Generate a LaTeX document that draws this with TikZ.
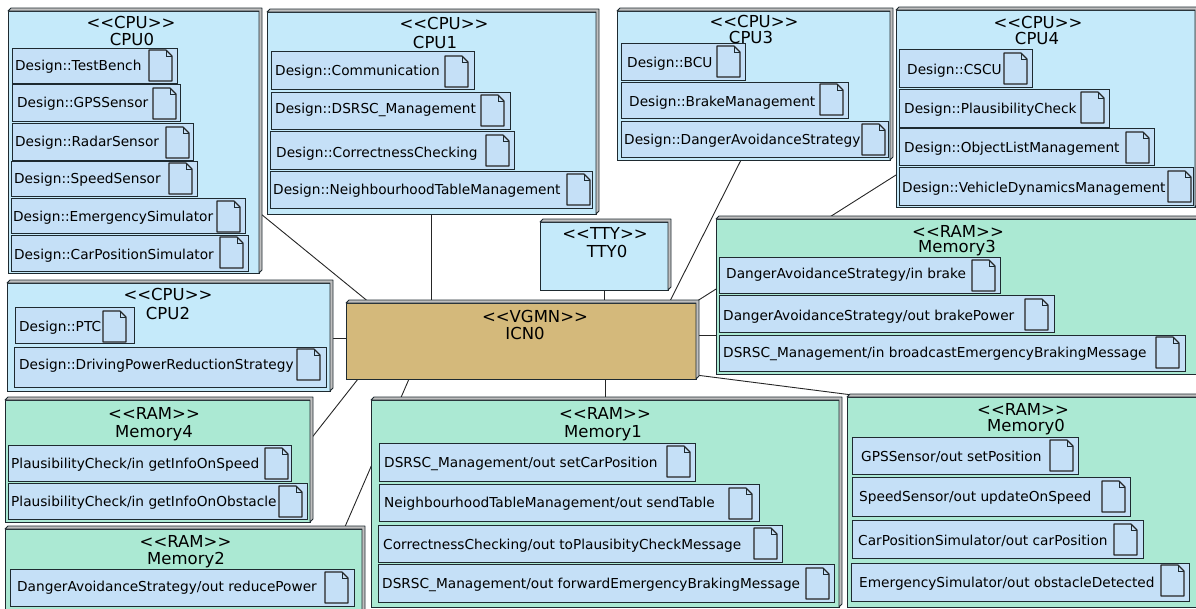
\documentclass[tikz,border=0pt]{standalone}
\usepackage{fontspec}
\setmainfont{DejaVu Sans}
\usetikzlibrary{calc, fit, backgrounds}

\definecolor{cpufill}{HTML}{C5EAFA}
\definecolor{ramfill}{HTML}{ABE9D3}
\definecolor{icnfill}{HTML}{D4B97B}
\definecolor{artfill}{HTML}{C5E0F7}
\definecolor{edgecol}{HTML}{1E2A30}

\tikzset{
	cpubox/.style={draw=edgecol, line width=0.9pt, fill=cpufill, inner sep=0pt, outer sep=0pt},
	rambox/.style={cpubox, fill=ramfill},
	icnbox/.style={cpubox, fill=icnfill},
	artbox/.style={draw=edgecol, line width=0.9pt, fill=artfill, inner sep=0pt, outer sep=0pt},
	artlabel/.style={anchor=west, inner sep=0pt, font=\fontsize{13.7}{15}\selectfont, text height=14pt, text depth=3pt},
	titlelabel/.style={inner sep=0pt, font=\fontsize{16.5}{18}\selectfont, text height=16pt, text depth=3pt},
	side/.style={fill=gray!50, draw=edgecol, line width=0.8pt, line join=round},
	docicon/.style={fill=artfill, draw=black!85, line width=1.1pt, line join=round},
	link/.style={draw=black!85, line width=0.9pt}
}

% name, top left, bottom right, style
\newcommand{\device}[4]{
	\node[#4, fit={(#2) (#3)}] (#1) {};
	\path[side] (#1.north west) -- ++(3,-3) -- ($(#1.north east)+(3,-3)$) -- ($(#1.south east)+(3,-3)$)
		-- (#1.south east) -- (#1.north east) -- cycle;
}
% name, stereotype position, stereotype, title position, title
\newcommand{\devtitle}[5]{
	\path (#2) node[titlelabel] (#1-stereo) {#3};
	\path (#4) node[titlelabel] (#1-title) {#5};
}
% name, top left, bottom right, text position, icon position, text
\newcommand{\artifact}[6]{
	\node[artbox, fit={(#2) (#3)}] (#1) {};
	\path (#4) node[artlabel] (#1-label) {#6};
	\path[docicon] (#5) -- ++(17,0) -- ++(6,6) -- ++(0,25) -- ++(-23,0) -- cycle;
	\draw[edgecol, line width=0.7pt] (#5) ++(17,0) -- ++(0,6) -- ++(6,0);
}

\begin{document}
\begin{tikzpicture}[x=1pt,y=-1pt]
	\useasboundingbox (0,0) rectangle (1196,608);

	% CPU0
	\device{cpu0}{8,11}{259,273}{cpubox}
	\devtitle{cpu0}{131,22}{<{}<CPU>{}>}{132,39}{CPU0}
	\artifact{testbench}{12,48}{177,83}{15,65}{149,50}{Design::TestBench}
	\artifact{gpssensor}{12,84}{180,121}{17,102}{153,88}{Design::GPSSensor}
	\artifact{radarsensor}{12,123}{193,160}{15,141}{166,127}{Design::RadarSensor}
	\artifact{speedsensor}{11,161}{197,196}{14,178}{169,163}{Design::SpeedSensor}
	\artifact{emergencysim}{11,198}{245,233}{13,216}{217,201}{Design::EmergencySimulator}
	\artifact{carpossim}{11,235}{248,271}{14,254}{220,237}{Design::CarPositionSimulator}

	% CPU1
	\device{cpu1}{267,12}{596,214}{cpubox}
	\devtitle{cpu1}{444,23}{<{}<CPU>{}>}{435,42}{CPU1}
	\artifact{communication}{271,51}{474,89}{275,70}{445,56}{Design::Communication}
	\artifact{dsrscmgmt}{271,92}{510,129}{275,108}{481,95}{Design::DSRSC\_Management}
	\artifact{correctness}{270,131}{514,169}{276,152}{486,135}{Design::CorrectnessChecking}
	\artifact{neighbourhood}{270,171}{592,208}{273,189}{567,174}{Design::NeighbourhoodTableManagement}

	% CPU2
	\device{cpu2}{7,283}{330,391}{cpubox}
	\devtitle{cpu2}{168,294}{<{}<CPU>{}>}{168,313}{CPU2}
	\artifact{ptc}{15,307}{134,343}{19,326}{103,311}{Design::PTC}
	\artifact{drivingpower}{14,347}{326,387}{19,364}{297,349}{Design::DrivingPowerReductionStrategy}

	% CPU3
	\device{cpu3}{617,11}{890,160}{cpubox}
	\devtitle{cpu3}{754,21}{<{}<CPU>{}>}{751,37}{CPU3}
	\artifact{bcu}{621,43}{745,80}{627,62}{717,46}{Design::BCU}
	\artifact{brakemgmt}{621,82}{848,118}{629,101}{820,84}{Design::BrakeManagement}
	\artifact{dangeravoid}{621,121}{888,157}{624,139}{862,124}{Design::DangerAvoidanceStrategy}

	% CPU4
	\device{cpu4}{896,10}{1195,207}{cpubox}
	\devtitle{cpu4}{1038,22}{<{}<CPU>{}>}{1037,38}{CPU4}
	\artifact{cscu}{899,49}{1032,87}{907,69}{1004,53}{Design::CSCU}
	\artifact{plausibility}{899,89}{1109,127}{904,108}{1081,92}{Design::PlausibilityCheck}
	\artifact{objectlist}{899,128}{1154,165}{904,147}{1126,132}{Design::ObjectListManagement}
	\artifact{vehicledyn}{899,167}{1193,205}{902,187}{1168,171}{Design::VehicleDynamicsManagement}

	% TTY and interconnect
	\device{tty0}{540,222}{668,290}{cpubox}
	\devtitle{tty0}{605,233}{<{}<TTY>{}>}{607,251}{TTY0}
	\device{icn0}{346,303}{696,379}{icnbox}
	\devtitle{icn0}{535,316}{<{}<VGMN>{}>}{525,333}{ICN0}

	% Memory3
	\device{mem3}{716,219}{1200,374}{rambox}
	\devtitle{mem3}{958,231}{<{}<RAM>{}>}{957,246}{Memory3}
	\artifact{inbrake}{719,257}{1000,293}{726,273}{972,260}{DangerAvoidanceStrategy/in brake}
	\artifact{outbrake}{719,295}{1054,332}{723,315}{1025,299}{DangerAvoidanceStrategy/out brakePower}
	\artifact{inbroadcast}{719,335}{1185,371}{723,352}{1156,337}{DSRSC\_Management/in broadcastEmergencyBrakingMessage}

	% Memory4
	\device{mem4}{5,400}{310,522}{rambox}
	\devtitle{mem4}{154,413}{<{}<RAM>{}>}{154,431}{Memory4}
	\artifact{inspeed}{8,445}{291,481}{11,463}{265,448}{PlausibilityCheck/in getInfoOnSpeed}
	\artifact{inobstacle}{8,483}{307,519}{11,501}{279,486}{PlausibilityCheck/in getInfoOnObstacle}

	% Memory2
	\device{mem2}{5,529}{362,614}{rambox}
	\devtitle{mem2}{185.5,541}{<{}<RAM>{}>}{186,558}{Memory2}
	\artifact{outreduce}{10,569}{354,606}{17,586}{325,572}{DangerAvoidanceStrategy/out reducePower}

	% Memory1
	\device{mem1}{371,400}{839,607}{rambox}
	\devtitle{mem1}{605,413}{<{}<RAM>{}>}{603,431}{Memory1}
	\artifact{outsetcar}{379,443}{695,481}{384,462}{667,446}{DSRSC\_Management/out setCarPosition}
	\artifact{outsendtable}{379,484}{759,521}{384,502}{729,488}{NeighbourhoodTableManagement/out sendTable}
	\artifact{outtoplaus}{378,525}{782,562}{383,544}{754,528}{CorrectnessChecking/out toPlausibityCheckMessage}
	\artifact{outforward}{378,564}{834,602}{382,583}{806,568}{DSRSC\_Management/out forwardEmergencyBrakingMessage}

	% Memory0
	\device{mem0}{847,397}{1200,607}{rambox}
	\devtitle{mem0}{1023,409}{<{}<RAM>{}>}{1026,425}{Memory0}
	\artifact{outsetpos}{852,437}{1078,474}{861,456}{1050,440}{GPSSensor/out setPosition}
	\artifact{outupdate}{852,477}{1130,516}{859,496}{1102,481}{SpeedSensor/out updateOnSpeed}
	\artifact{outcarpos}{852,520}{1143,558}{858,540}{1114,524}{CarPositionSimulator/out carPosition}
	\artifact{outobstacle}{851,563}{1189,601}{859,582}{1161,565}{EmergencySimulator/out obstacleDetected}

	% Links, behind the boxes
	\begin{pgfonlayer}{background}
		\draw[link] ($(cpu0.south east)+(0,-60.6)$) -- ($(icn0.north west)+(24,0)$);
		\draw[link] (cpu1.south) -- (cpu1.south |- icn0.north);
		\draw[link] ($(icn0.north west)+(0,35)$) -- ($(cpu2.north east)+(0,55)$);
		\draw[link] ($(cpu3.south east)+(-149,0)$) -- ($(icn0.north west)+(323,0)$);
		\draw[link] ($(cpu4.south west)+(0,-32)$) -- ($(icn0.north west)+(348,0)$);
		\draw[link] (tty0.south) -- (tty0.south |- icn0.north);
		\draw[link] ($(icn0.north east)+(0,32.5)$) -- ($(mem3.north west)+(0,116.5)$);
		\draw[link] ($(icn0.south east)+(0,-4)$) -- ($(mem0.north west)+(21,0)$);
		\draw[link] (icn0.south -| mem1.north) -- (mem1.north);
		\draw[link] ($(icn0.south west)+(63,0)$) -- ($(mem2.north east)+(-18,0)$);
		\draw[link] ($(icn0.south west)+(12,0)$) -- ($(mem4.north east)+(0,40)$);
	\end{pgfonlayer}
\end{tikzpicture}
\end{document}
